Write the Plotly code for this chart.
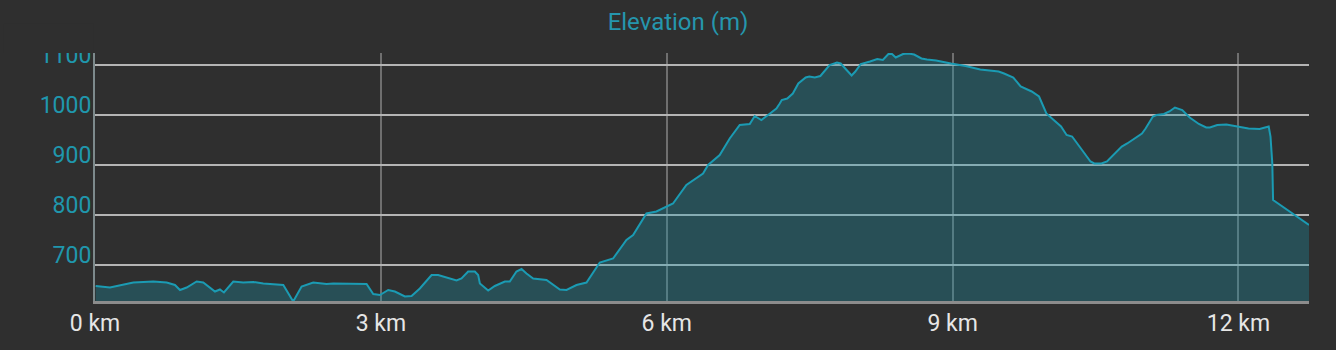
import plotly.graph_objects as go

distance_km = [
    0.007, 0.157, 0.402, 0.612, 0.752, 0.839, 0.892, 0.962, 1.067, 1.136,
    1.259, 1.311, 1.353, 1.451, 1.556, 1.661, 1.766, 1.906, 1.976, 2.080,
    2.168, 2.290, 2.430, 2.500, 2.850, 2.920, 2.990, 3.077, 3.147, 3.252,
    3.322, 3.409, 3.532, 3.601, 3.794, 3.846, 3.916, 3.986, 4.021, 4.039,
    4.126, 4.196, 4.301, 4.353, 4.423, 4.476, 4.528, 4.598, 4.738, 4.878,
    4.948, 5.053, 5.158, 5.297, 5.402, 5.437, 5.577, 5.647, 5.787, 5.892,
    6.066, 6.206, 6.381, 6.434, 6.556, 6.661, 6.766, 6.871, 6.923, 6.993,
    7.063, 7.151, 7.186, 7.207, 7.265, 7.323, 7.381, 7.458, 7.496, 7.554,
    7.612, 7.670, 7.709, 7.786, 7.825, 7.902, 7.940, 7.979, 8.036, 8.133,
    8.209, 8.268, 8.326, 8.364, 8.403, 8.480, 8.538, 8.596, 8.673, 8.731,
    8.827, 8.982, 9.136, 9.290, 9.483, 9.540, 9.637, 9.714, 9.830, 9.907,
    9.984, 10.061, 10.138, 10.196, 10.254, 10.331, 10.447, 10.486, 10.562, 10.620,
    10.717, 10.775, 10.832, 10.909, 10.987, 11.025, 11.102, 11.140, 11.218, 11.275,
    11.333, 11.410, 11.488, 11.584, 11.661, 11.700, 11.777, 11.873, 11.990, 12.105,
    12.221, 12.317, 12.336, 12.355, 12.363, 12.452, 12.568, 12.740,
]
elevation_m = [
    658, 655, 665, 667, 665, 660, 650, 655, 667, 665,
    647, 651, 645, 667, 665, 666, 663, 661, 660, 627,
    657, 665, 662, 663, 662, 642, 640, 650, 647, 637,
    638, 653, 680, 680, 669, 673, 687, 687, 680, 663,
    649, 658, 667, 667, 687, 692, 683, 673, 670, 651,
    650, 660, 665, 705, 710, 713, 750, 760, 803, 807,
    823, 860, 883, 900, 920, 953, 980, 982, 998, 990,
    1000, 1013, 1023, 1030, 1033, 1043, 1063, 1075, 1077, 1075,
    1078, 1090, 1100, 1105, 1103, 1087, 1079, 1087, 1102, 1107,
    1112, 1110, 1122, 1122, 1115, 1122, 1123, 1121, 1113, 1111,
    1109, 1103, 1098, 1091, 1087, 1083, 1075, 1057, 1047, 1037,
    1003, 990, 977, 960, 957, 937, 907, 903, 903, 907,
    927, 937, 943, 953, 963, 973, 997, 1000, 1002, 1007,
    1015, 1010, 995, 982, 975, 975, 980, 981, 977, 973,
    972, 977, 957, 903, 830, 818, 803, 780,
]

x_tick_values = [0, 3, 6, 9, 12]
x_tick_labels = ["0 km", "3 km", "6 km", "9 km", "12 km"]
y_tick_values = [700, 800, 900, 1000, 1100]
y_tick_labels = ["700", "800", "900", "1000", "1100"]

BG = "#2f2f2f"
TEAL = "#1b9bb3"

fig = go.Figure()
fig.add_trace(go.Scatter(
    x=distance_km, y=elevation_m, mode="lines",
    line=dict(color=TEAL, width=2),
    fill="tozeroy", fillcolor="rgba(27,155,179,0.30)",
    hoverinfo="skip", showlegend=False,
))

fig.update_layout(
    width=1336, height=350,
    margin=dict(l=95, r=27, t=53, b=49),
    paper_bgcolor=BG, plot_bgcolor=BG,
    font=dict(family="Roboto", size=23),
    title=dict(text="Elevation (m)", font=dict(family="Roboto", size=24, color="#2596ad"),
               x=0.5075, xref="container", xanchor="center",
               y=1 - 22 / 350, yref="container", yanchor="middle"),
    showlegend=False,
)
fig.update_xaxes(
    range=[0, 12.74], tickvals=x_tick_values, ticktext=x_tick_labels,
    showgrid=True, gridcolor="#6f6f6f", gridwidth=1.5,
    showline=True, linecolor="#8c8c8c", linewidth=2.5,
    zeroline=False, ticks="", tickfont=dict(color="#e6e6e6", size=23),
    fixedrange=True,
)
fig.update_yaxes(
    range=[628, 1124], tickvals=y_tick_values, ticktext=y_tick_labels,
    showgrid=True, gridcolor="#b4b4b4", gridwidth=1.5,
    showline=True, linecolor="#7d8a8c", linewidth=2,
    zeroline=False, ticks="", tickfont=dict(color="#1f97ad", size=23),
    ticklabelposition="outside top", ticklabelshift=6, ticklabelstandoff=-3,
    fixedrange=True,
)
# Clip the topmost y label at the top of the chart area, as in the reference
fig.add_shape(type="rect", xref="paper", yref="paper",
              x0=-0.075, x1=-0.0015, y0=1.0, y1=1.12,
              fillcolor=BG, line=dict(width=0), layer="above")

fig.write_html("out.html")
